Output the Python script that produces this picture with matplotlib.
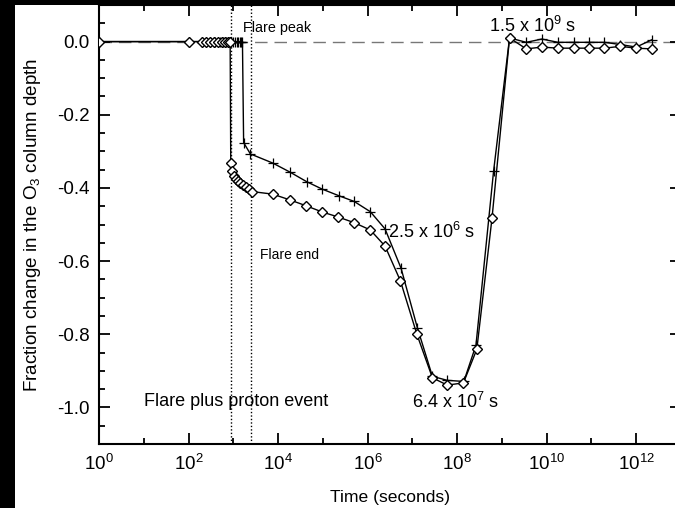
import matplotlib
matplotlib.use('Agg')
import matplotlib.pyplot as plt
import matplotlib.ticker as ticker
from matplotlib.patches import Rectangle
import numpy as np

plt.rcParams['font.family'] = ['Liberation Sans', 'DejaVu Sans']
plt.rcParams['mathtext.fontset'] = 'custom'
plt.rcParams['mathtext.rm'] = 'Liberation Sans'
plt.rcParams['mathtext.it'] = 'Liberation Sans:italic'

# diamond series (flare plus proton event, run 1)
t_diamond = [1, 100, 200, 250, 300, 370, 450, 550, 650, 750, 850,
             877, 938, 1040, 1150, 1277, 1415, 1652, 1928, 2250, 2625,
             7590, 1.86e4, 4.27e4, 9.77e4, 2.14e5, 5.01e5, 1.15e6, 2.45e6,
             5.4e6, 1.26e7, 2.8e7, 6.0e7, 1.38e8, 2.75e8, 6.0e8, 1.48e9,
             3.5e9, 7.8e9, 1.78e10, 4.0e10, 8.7e10, 1.95e11, 4.4e11, 1.0e12, 2.24e12]
v_diamond = [0, 0, 0, 0, 0, 0, 0, 0, 0, 0, 0,
             -0.332, -0.355, -0.367, -0.375, -0.382, -0.386, -0.392, -0.397, -0.403, -0.410,
             -0.417, -0.433, -0.449, -0.466, -0.479, -0.495, -0.515, -0.559,
             -0.654, -0.800, -0.919, -0.939, -0.933, -0.841, -0.483, 0.010,
             -0.020, -0.015, -0.018, -0.018, -0.018, -0.018, -0.013, -0.018, -0.020]

# plus series (run 2)
t_plus = [1, 100, 200, 300, 400, 500, 600, 700, 800, 900, 1000, 1100, 1200,
          1300, 1400, 1500, 1600, 1700, 2400,
          7590, 1.86e4, 4.36e4, 9.55e4, 2.24e5, 5.01e5, 1.15e6, 2.45e6,
          5.6e6, 1.29e7, 2.8e7, 6.0e7, 1.41e8, 2.63e8, 6.5e8, 1.48e9,
          3.5e9, 7.8e9, 1.78e10, 4.0e10, 8.7e10, 1.95e11, 4.4e11, 1.0e12, 2.24e12]
v_plus = [0, 0, 0, 0, 0, 0, 0, 0, 0, 0, 0, 0, 0,
          0, 0, 0, 0, -0.276, -0.307,
          -0.332, -0.357, -0.383, -0.403, -0.421, -0.437, -0.465, -0.512,
          -0.620, -0.782, -0.915, -0.926, -0.929, -0.830, -0.355, 0.010,
          -0.002, 0.007, -0.002, -0.002, -0.002, -0.002, -0.008, -0.015, 0.005]

flare_peak_t = 870
flare_end_t = 2500

fig = plt.figure(figsize=(6.75, 5.08), dpi=100, facecolor='black')
fig.patches.append(Rectangle((15 / 675, 0), 1, 503 / 508, transform=fig.transFigure,
                             facecolor='white', edgecolor='none', zorder=-1))
ax = fig.add_axes([99 / 675, 64 / 508, 582 / 675, 439 / 508])

ax.axhline(0, color='#777777', lw=1, dashes=(9, 5), zorder=1)
ax.axvline(flare_peak_t, color='black', lw=1, ls=(0, (1, 1.5)), zorder=1)
ax.axvline(flare_end_t, color='black', lw=1, ls=(0, (1, 1.5)), zorder=1)

ax.plot(t_plus, v_plus, color='black', lw=1, marker='+', ms=7, mew=0.9, zorder=3)
ax.plot(t_diamond, v_diamond, color='black', lw=1, marker='D', ms=5, mew=1,
        mfc='white', zorder=3)

ax.set_xscale('log')
ax.set_xlim(1, 1e13)
ax.set_ylim(-1.1, 0.1)

ax.xaxis.set_major_locator(ticker.FixedLocator([1e0, 1e2, 1e4, 1e6, 1e8, 1e10, 1e12]))
ax.xaxis.set_minor_locator(ticker.FixedLocator([1e1, 1e3, 1e5, 1e7, 1e9, 1e11]))
ax.xaxis.set_major_formatter(ticker.FuncFormatter(lambda v, p: '10$^{%d}$' % round(np.log10(v))))
ax.xaxis.set_minor_formatter(ticker.NullFormatter())
ax.yaxis.set_major_locator(ticker.MultipleLocator(0.2))
ax.yaxis.set_minor_locator(ticker.MultipleLocator(0.05))
ax.yaxis.set_major_formatter(ticker.FormatStrFormatter('%.1f'))

ax.tick_params(which='both', direction='in', top=True, right=True, labelsize=13.5, width=1.3)
ax.tick_params(which='major', length=8, pad=7)
ax.tick_params(which='minor', length=4)
for s in ax.spines.values():
    s.set_linewidth(1.5)

ax.set_xlabel('Time (seconds)', fontsize=12.6, labelpad=12)
ax.set_ylabel('Fraction change in the O$_3$ column depth', fontsize=13.6, labelpad=10)

ax.text(10**3.22, 0.036, 'Flare peak', fontsize=10.4, ha='left', va='center')
ax.text(10**3.60, -0.584, 'Flare end', fontsize=10, ha='left', va='center')
ax.text(10**1.0, -0.985, 'Flare plus proton event', fontsize=13, ha='left', va='center')
ax.text(10**6.46, -0.52, '2.5 x 10$^6$ s', fontsize=13, ha='left', va='center')
ax.text(10**8.72, 0.044, '1.5 x 10$^9$ s', fontsize=13, ha='left', va='center')
ax.text(10**6.99, -0.985, '6.4 x 10$^7$ s', fontsize=13, ha='left', va='center')

fig.savefig('out.png', dpi=100, facecolor=fig.get_facecolor())
